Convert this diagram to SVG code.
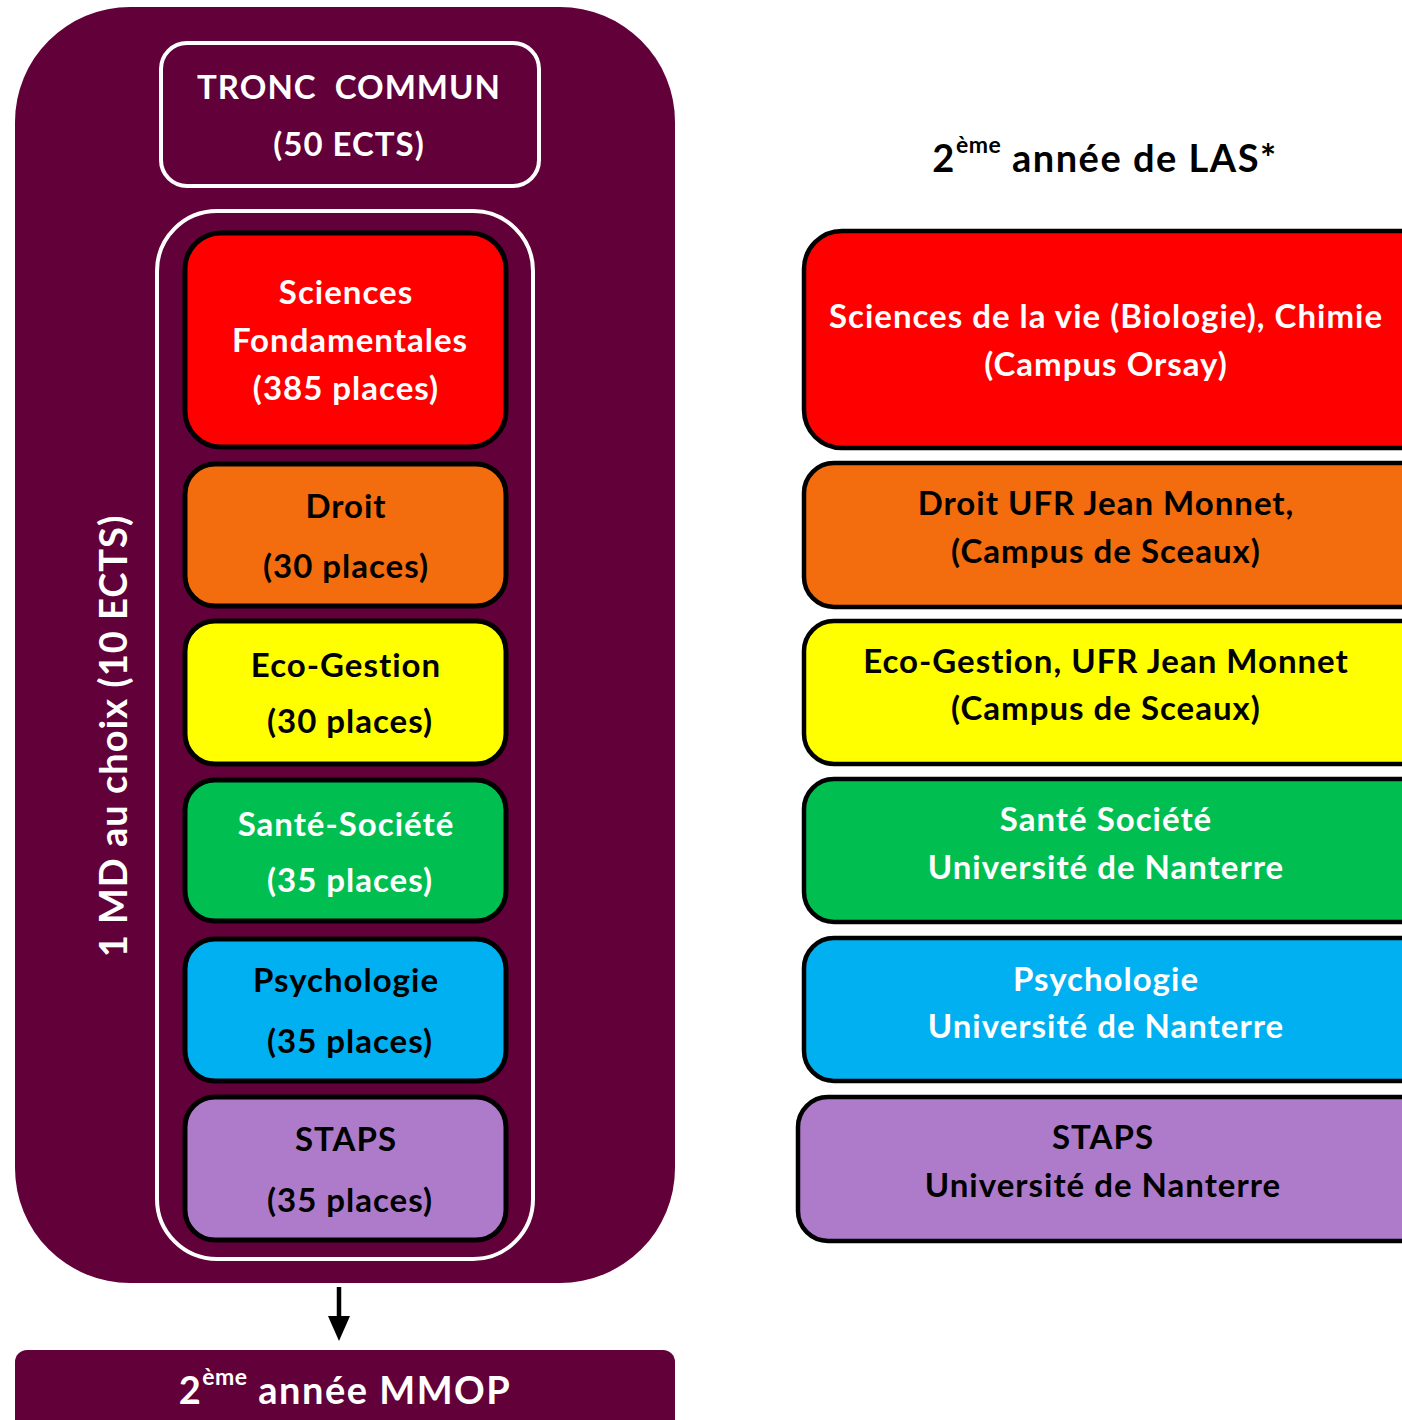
<svg xmlns="http://www.w3.org/2000/svg" width="1402" height="1420" viewBox="0 0 1402 1420">
<style>
text{font-family:Lato,"Open Sans","Liberation Sans",sans-serif;font-weight:bold;text-anchor:middle;white-space:pre}
.t{font-size:33px;letter-spacing:1px}
.w{fill:#fff}
.k{fill:#000}
.box{stroke:#000;stroke-width:5}
.rbox{stroke:#000;stroke-width:4.5}
.big{font-size:38px;letter-spacing:1.5px}
.sup{font-size:23px;letter-spacing:0.5px}
</style>
<defs>
<marker id="ah" markerWidth="26" markerHeight="24" refX="0" refY="12" orient="auto" markerUnits="userSpaceOnUse">
<path d="M0,1 L25,12 L0,23 z" fill="#000"/>
</marker>
</defs>
<rect width="1402" height="1420" fill="#fff"/>

<g id="outer">
<rect x="15" y="7" width="660" height="1276" rx="115" ry="115" fill="#62003A"/>
<text class="w" font-size="38" letter-spacing="1" transform="translate(127,736) rotate(-90)">1 MD au choix (10 ECTS)</text>
</g>

<g id="tronc">
<rect x="161" y="43" width="378" height="143" rx="26" fill="none" stroke="#fff" stroke-width="4"/>
<text class="t w" x="349" y="99" letter-spacing="0.5">TRONC  COMMUN</text>
<text class="t w" x="349" y="156">(50 ECTS)</text>
</g>

<g id="choix">
<rect x="157" y="211" width="376" height="1048" rx="60" fill="none" stroke="#fff" stroke-width="4"/>
</g>

<g id="l-sciences">
<rect class="box" x="185" y="233" width="321" height="214" rx="36" fill="#FF0000"/>
<text class="t w" x="346" y="304">Sciences</text>
<text class="t w" x="350" y="352">Fondamentales</text>
<text class="t w" x="346" y="400">(385 places)</text>
</g>
<g id="l-droit">
<rect class="box" x="185" y="464" width="321" height="142" rx="30" fill="#F36C0E"/>
<text class="t k" x="346" y="518">Droit</text>
<text class="t k" x="346" y="578">(30 places)</text>
</g>
<g id="l-eco">
<rect class="box" x="185" y="621" width="321" height="143" rx="30" fill="#FFFF00"/>
<text class="t k" x="346" y="677">Eco-Gestion</text>
<text class="t k" x="350" y="733">(30 places)</text>
</g>
<g id="l-sante">
<rect class="box" x="185" y="780" width="321" height="141" rx="30" fill="#00BF50"/>
<text class="t w" x="346" y="836">Santé-Société</text>
<text class="t w" x="350" y="892">(35 places)</text>
</g>
<g id="l-psy">
<rect class="box" x="185" y="939" width="321" height="142" rx="30" fill="#00B0F0"/>
<text class="t k" x="346" y="992">Psychologie</text>
<text class="t k" x="350" y="1053">(35 places)</text>
</g>
<g id="l-staps">
<rect class="box" x="185" y="1097" width="321" height="143" rx="30" fill="#AE7BCB"/>
<text class="t k" x="346" y="1151">STAPS</text>
<text class="t k" x="350" y="1212">(35 places)</text>
</g>

<g id="connectors">
<line x1="339" y1="1287" x2="339" y2="1316" stroke="#000" stroke-width="4.5" marker-end="url(#ah)"/>
</g>

<g id="mmop">
<rect x="15" y="1350" width="660" height="90" rx="12" fill="#62003A"/>
<text class="big w" x="345" y="1404">2<tspan class="sup" dy="-19">ème</tspan><tspan dy="19"> année MMOP</tspan></text>
</g>

<g id="title">
<text class="big k" x="1105" y="172">2<tspan class="sup" dy="-19">ème</tspan><tspan dy="19"> année de LAS*</tspan></text>
</g>

<g id="r-sciences">
<rect class="rbox" x="804" y="231" width="640" height="217" rx="38" fill="#FF0000"/>
<text class="t w" x="1106" y="328">Sciences de la vie (Biologie), Chimie</text>
<text class="t w" x="1106" y="376">(Campus Orsay)</text>
</g>
<g id="r-droit">
<rect class="rbox" x="804" y="463" width="640" height="144" rx="30" fill="#F36C0E"/>
<text class="t k" x="1106" y="515">Droit UFR Jean Monnet,</text>
<text class="t k" x="1106" y="563">(Campus de Sceaux)</text>
</g>
<g id="r-eco">
<rect class="rbox" x="804" y="621" width="640" height="143" rx="30" fill="#FFFF00"/>
<text class="t k" x="1106" y="673">Eco-Gestion, UFR Jean Monnet</text>
<text class="t k" x="1106" y="720">(Campus de Sceaux)</text>
</g>
<g id="r-sante">
<rect class="rbox" x="804" y="779" width="640" height="143" rx="30" fill="#00BF50"/>
<text class="t w" x="1106" y="831">Santé Société</text>
<text class="t w" x="1106" y="879">Université de Nanterre</text>
</g>
<g id="r-psy">
<rect class="rbox" x="804" y="938" width="640" height="143" rx="30" fill="#00B0F0"/>
<text class="t w" x="1106" y="991">Psychologie</text>
<text class="t w" x="1106" y="1038">Université de Nanterre</text>
</g>
<g id="r-staps">
<rect class="rbox" x="798" y="1097" width="646" height="144" rx="30" fill="#AE7BCB"/>
<text class="t k" x="1103" y="1149">STAPS</text>
<text class="t k" x="1103" y="1197">Université de Nanterre</text>
</g>
</svg>
